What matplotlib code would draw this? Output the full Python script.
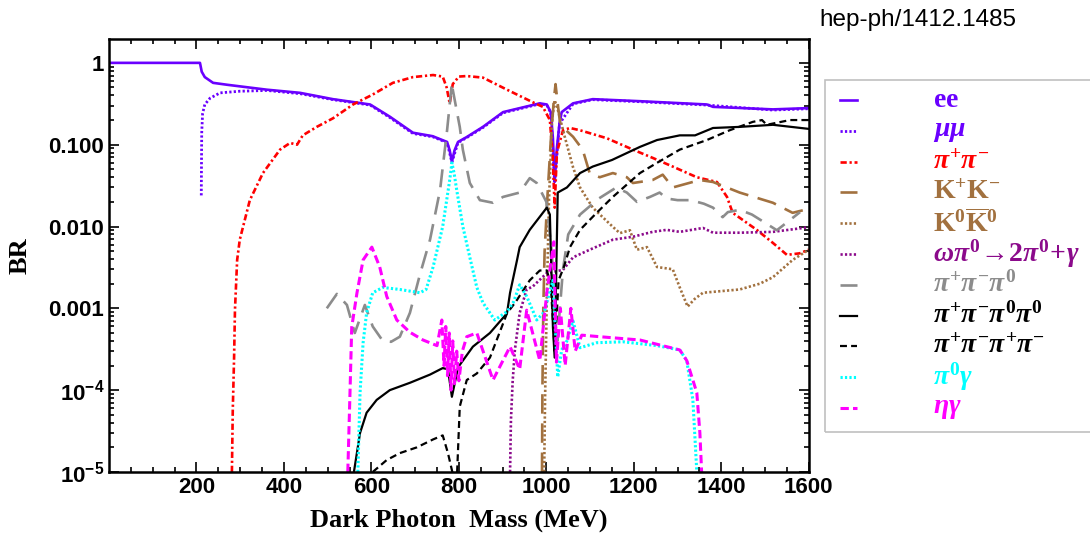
import matplotlib

matplotlib.use("Agg")
import matplotlib.pyplot as plt
import numpy as np
from matplotlib.lines import Line2D
from matplotlib.patches import Rectangle
from matplotlib.ticker import FixedLocator, LogLocator, NullFormatter

plt.rcParams["font.family"] = "Liberation Sans"
plt.rcParams["font.weight"] = "bold"
plt.rcParams["mathtext.fontset"] = "custom"
plt.rcParams["mathtext.rm"] = "Liberation Serif:bold"
plt.rcParams["mathtext.it"] = "Liberation Serif:italic:bold"
plt.rcParams["mathtext.bf"] = "Liberation Sans:bold"
plt.rcParams["lines.scale_dashes"] = False

# branching ratios of a dark photon vs. its mass (MeV)
ee_mass = [0, 208, 212, 219, 238, 270, 361, 437, 512, 597, 642, 695, 740, 773, 779, 784, 790, 798, 818, 855,
           901, 985, 1001, 1010, 1015, 1019, 1024, 1030, 1035, 1061, 1106, 1214, 1367, 1381, 1518, 1600]
ee_br = [1, 1, 0.78, 0.67, 0.57, 0.54, 0.47, 0.43, 0.36, 0.31, 0.22, 0.14, 0.127, 0.108, 0.085, 0.062, 0.085,
         0.108, 0.124, 0.165, 0.25, 0.32, 0.31, 0.25, 0.12, 0.035, 0.09, 0.18, 0.25, 0.32, 0.36, 0.34, 0.31,
         0.29, 0.27, 0.28]

mumu_mass = [211, 211.5, 212, 214, 219, 231, 254, 299, 361, 437, 512, 597, 642, 695, 740, 773, 784, 798, 818,
             855, 901, 985, 1001, 1010, 1019, 1030, 1061, 1106, 1214, 1367, 1518, 1600]
mumu_br = [0.024, 0.06, 0.14, 0.24, 0.31, 0.37, 0.43, 0.45, 0.46, 0.42, 0.355, 0.305, 0.215, 0.137, 0.125,
           0.106, 0.061, 0.106, 0.122, 0.162, 0.245, 0.315, 0.305, 0.245, 0.034, 0.18, 0.315, 0.355, 0.335,
           0.305, 0.265, 0.275]

pipi_mass = [281, 283, 286, 288, 293, 299, 322, 352, 391, 414, 430, 443, 475, 512, 558, 603, 649, 695, 741,
             763, 772, 779, 786, 800, 818, 855, 910, 969, 992, 1008, 1014, 1019, 1024, 1038, 1054, 1077, 1138,
             1198, 1243, 1289, 1344, 1390, 1413, 1426, 1481, 1518, 1550, 1579, 1600]
pipi_br = [1e-5, 5.7e-5, 2.5e-4, 9.5e-4, 3.9e-3, 6.9e-3, 0.021, 0.045, 0.087, 0.105, 0.10, 0.13, 0.165, 0.21,
           0.31, 0.41, 0.57, 0.67, 0.71, 0.68, 0.5, 0.32, 0.55, 0.68, 0.69, 0.66, 0.47, 0.33, 0.29, 0.20, 0.08,
           0.017, 0.08, 0.15, 0.16, 0.15, 0.12, 0.087, 0.069, 0.054, 0.040, 0.035, 0.023, 0.0147, 0.0091,
           0.0063, 0.0045, 0.0047, 0.0052]

kpkm_mass = [990, 991, 993, 996, 1003, 1010, 1017, 1021, 1025, 1031, 1045, 1061, 1083, 1099, 1122, 1152, 1184,
             1198, 1243, 1266, 1289, 1351, 1381, 1442, 1518, 1563, 1591]
kpkm_br = [1e-5, 1e-4, 1e-3, 5e-3, 0.026, 0.11, 0.35, 0.55, 0.35, 0.19, 0.15, 0.125, 0.087, 0.045, 0.040,
           0.045, 0.040, 0.034, 0.037, 0.043, 0.030, 0.037, 0.035, 0.026, 0.0195, 0.0147, 0.016]

k0k0_mass = [995, 997, 1001, 1006, 1013, 1019, 1026, 1042, 1061, 1077, 1106, 1152, 1168, 1191, 1207, 1230,
             1253, 1289, 1305, 1323, 1339, 1358, 1442, 1488, 1518, 1563, 1600]
k0k0_br = [1e-5, 7.6e-5, 1.3e-3, 0.021, 0.20, 0.35, 0.27, 0.125, 0.053, 0.030, 0.017, 0.0099, 0.0083, 0.009,
           0.0052, 0.0056, 0.0032, 0.0030, 0.0018, 0.00105, 0.0013, 0.00155, 0.0017, 0.0020, 0.0024, 0.0039,
           0.0052]

ompi_mass = [917, 919, 923, 928, 939, 955, 969, 1001, 1038, 1061, 1099, 1152, 1198, 1243, 1275, 1305, 1358,
             1381, 1442, 1518, 1600]
ompi_br = [1e-5, 4.3e-5, 1.3e-4, 3.1e-4, 8.8e-4, 1.7e-3, 1.85e-3, 2.7e-3, 2.95e-3, 4.2e-3, 5.2e-3, 6.9e-3,
           7.5e-3, 8.6e-3, 9.1e-3, 8.6e-3, 9.6e-3, 8.4e-3, 8.4e-3, 8.6e-3, 9.8e-3]

pi3_mass = [498, 521, 544, 562, 585, 603, 626, 645, 665, 688, 711, 734, 757, 773, 784, 786, 802, 809, 825, 848,
            878, 901, 939, 962, 978, 1000, 1012, 1025, 1038, 1050, 1077, 1120, 1160, 1184, 1207, 1237, 1259,
            1275, 1300, 1330, 1360, 1381, 1403, 1415, 1442, 1470, 1490, 1527, 1557, 1580]
pi3_br = [1e-3, 1.5e-3, 1.1e-3, 5e-4, 1.1e-3, 6e-4, 4e-4, 3.9e-4, 4.5e-4, 8.8e-4, 2.6e-3, 6.9e-3, 0.028, 0.15,
          0.57, 0.47, 0.165, 0.087, 0.034, 0.021, 0.0195, 0.023, 0.026, 0.039, 0.034, 0.02, 5e-3, 4e-4, 3e-3,
          8e-3, 0.014, 0.022, 0.03, 0.026, 0.02, 0.023, 0.026, 0.022, 0.021, 0.021, 0.019, 0.017, 0.013, 0.015,
          0.016, 0.014, 0.012, 0.009, 0.012, 0.015]

pi4n_mass = [560, 574, 589, 612, 642, 688, 734, 763, 775, 784, 798, 832, 871, 910, 917, 933, 939, 962, 1001,
             1008, 1015, 1019, 1026, 1047, 1077, 1106, 1150, 1214, 1253, 1305, 1340, 1381, 1442, 1518, 1600]
pi4n_br = [1e-5, 3e-5, 5.3e-5, 7.6e-5, 1e-4, 1.23e-4, 1.55e-4, 1.86e-4, 1.8e-4, 8.3e-5, 1.9e-4, 3.4e-4, 5e-4,
           8.7e-4, 1.55e-3, 3.9e-3, 5.6e-3, 9.1e-3, 0.017, 0.014, 5.9e-4, 2.5e-4, 0.026, 0.030, 0.045, 0.054,
           0.065, 0.094, 0.114, 0.13, 0.13, 0.16, 0.165, 0.175, 0.156]

pi4c_mass = [603, 635, 665, 704, 741, 763, 775, 785, 790, 796, 802, 818, 841, 871, 910, 930, 962, 985, 1001,
             1010, 1019, 1028, 1040, 1054, 1077, 1115, 1152, 1214, 1253, 1305, 1367, 1419, 1472, 1493, 1504,
             1557, 1600]
pi4c_br = [1e-5, 1.4e-5, 1.7e-5, 2e-5, 2.5e-5, 2.8e-5, 1.7e-5, 1e-5, 5e-6, 1e-5, 6.3e-5, 1.33e-4, 1.6e-4,
           2.5e-4, 8.7e-4, 1.2e-3, 2.2e-3, 2.9e-3, 2.9e-3, 2e-3, 3e-4, 2.2e-3, 3.2e-3, 5.6e-3, 9.1e-3, 0.0147,
           0.023, 0.045, 0.06, 0.087, 0.114, 0.15, 0.19, 0.2, 0.175, 0.2, 0.2]

pi0g_mass = [569, 574, 581, 589, 603, 626, 665, 711, 725, 741, 763, 779, 784, 789, 795, 809, 825, 841, 855, 882,
             910, 925, 939, 955, 978, 995, 1015, 1026, 1035, 1047, 1061, 1077, 1115, 1175, 1253, 1305, 1321,
             1335, 1344]
pi0g_br = [1e-5, 9.3e-5, 3.8e-4, 8.8e-4, 1.55e-3, 1.8e-3, 1.7e-3, 1.55e-3, 1.7e-3, 3.2e-3, 0.01, 0.037, 0.06,
           0.045, 0.028, 0.01, 4.2e-3, 1.8e-3, 1.17e-3, 7.2e-4, 9.1e-4, 1.2e-3, 1.94e-3, 1.4e-3, 7.2e-4, 9e-4,
           2.2e-3, 1.45e-4, 3.1e-4, 4e-4, 7e-4, 3.3e-4, 3.8e-4, 3.9e-4, 3.5e-4, 3.1e-4, 2.3e-4, 7.6e-5, 1e-5]

etag_mass = [546, 551, 555, 567, 581, 601, 619, 635, 658, 688, 718, 750, 761, 766, 770, 774, 778, 782, 786, 790,
             795, 800, 808, 818, 841, 878, 917, 939, 955, 985, 1001, 1017, 1023, 1032, 1043, 1056, 1066, 1081,
             1122, 1214, 1305, 1321, 1344, 1351, 1355]
etag_br = [1e-5, 9.3e-5, 5.9e-4, 1.55e-3, 3.9e-3, 5.6e-3, 3.2e-3, 1.4e-3, 7.2e-4, 5.1e-4, 4.1e-4, 3.5e-4,
           7.2e-4, 2e-4, 6e-4, 1.5e-4, 5e-4, 1e-4, 4e-4, 1.2e-4, 3e-4, 1.3e-4, 3e-4, 4.5e-4, 5e-4, 1.33e-4,
           3.4e-4, 1.8e-4, 9.5e-4, 2.3e-4, 1.55e-3, 6.5e-3, 2.2e-4, 1e-3, 2e-4, 1e-3, 3e-4, 4.7e-4, 4.5e-4,
           4.1e-4, 3.1e-4, 2.3e-4, 9.3e-5, 3e-5, 1e-5]

x_ticks = [200, 400, 600, 800, 1000, 1200, 1400, 1600]
y_ticks = [1e-5, 1e-4, 1e-3, 1e-2, 1e-1, 1]
y_tick_labels = [r"$\mathbf{10^{-5}}$", r"$\mathbf{10^{-4}}$", "0.001", "0.010", "0.100", "1"]

PURPLE = "#6a00ff"
BROWN = "#a2713f"
# (mass, BR, label, colour, dash pattern in points or None for solid, linewidth)
channels = [
    (ee_mass, ee_br, r"$\mathrm{ee}$", PURPLE, None, 1.9),
    (mumu_mass, mumu_br, r"$\mu\mu$", PURPLE, (1.6, 1.6), 2.0),
    (pipi_mass, pipi_br, r"$\pi^{+}\pi^{-}$", "#ff0000", (4.5, 2.0, 1.6, 2.0), 1.9),
    (kpkm_mass, kpkm_br, r"$\mathrm{K^{+}K^{-}}$", BROWN, (14, 7), 1.9),
    (k0k0_mass, k0k0_br, r"$\mathrm{K^{0}\overline{K}^{0}}$", BROWN, (1.6, 1.6), 1.9),
    (ompi_mass, ompi_br, r"$\omega\pi^{0}\!\rightarrow\!2\pi^{0}\!+\!\gamma$", "#8b0a8b", (1.6, 1.6), 1.9),
    (pi3_mass, pi3_br, r"$\pi^{+}\pi^{-}\pi^{0}$", "#8c8c8c", (13, 7), 1.9),
    (pi4n_mass, pi4n_br, r"$\pi^{+}\pi^{-}\pi^{0}\pi^{0}$", "black", None, 1.6),
    (pi4c_mass, pi4c_br, r"$\pi^{+}\pi^{-}\pi^{+}\pi^{-}$", "black", (5, 3), 1.6),
    (pi0g_mass, pi0g_br, r"$\pi^{0}\gamma$", "#00ffff", (1.6, 1.6), 2.2),
    (etag_mass, etag_br, r"$\eta\gamma$", "#ff00ff", (6, 3), 2.2),
]

fig = plt.figure(figsize=(10.9, 5.44), dpi=100)
ax = fig.add_axes([0.1, 0.1324, 0.642, 0.796])

for mass, br, label, color, dashes, lw in channels:
    kw = {"dashes": dashes} if dashes else {"linestyle": "-"}
    ax.plot(mass, br, color=color, lw=lw, **kw)

ax.set_yscale("log")
ax.set_xlim(0, 1600)
ax.set_ylim(1e-5, 1.96)

ax.set_xticks(x_ticks)
ax.xaxis.set_minor_locator(FixedLocator(np.arange(50, 1600, 50)))
ax.set_yticks(y_ticks, y_tick_labels)
ax.yaxis.set_minor_locator(LogLocator(base=10, subs=np.arange(2, 10), numticks=20))
ax.yaxis.set_minor_formatter(NullFormatter())
ax.tick_params(which="both", direction="in", top=True, right=True, width=1.2, labelsize=16)
ax.tick_params(which="major", length=7)
ax.tick_params(which="minor", length=3.5)
for spine in ax.spines.values():
    spine.set_linewidth(1.8)

ax.set_xlabel("Dark Photon  Mass (MeV)", family="Liberation Serif", fontweight="bold", fontsize=19,
              labelpad=8)
ax.set_ylabel("BR", family="Liberation Serif", fontweight="bold", fontsize=19, labelpad=12)

fig.text(0.842, 0.963, "hep-ph/1412.1485", fontsize=17.5, fontweight="normal", ha="center", va="center")

# legend panel to the right of the axes
fig.add_artist(Rectangle((0.757, 0.206), 0.3, 0.647, transform=fig.transFigure,
                         fill=False, edgecolor="#c0c0c0", linewidth=1.2))
row_px = np.linspace(100, 408, len(channels))
for (mass, br, label, color, dashes, lw), py in zip(channels, row_px):
    y = 1 - py / 544
    kw = {"dashes": dashes} if dashes else {"linestyle": "-"}
    fig.add_artist(Line2D([0.771, 0.786], [y, y], transform=fig.transFigure, color=color, lw=lw, **kw))
    fig.text(0.856, y, label, color=color, fontsize=20, ha="left", va="center")

fig.savefig("out.png", dpi=100)
